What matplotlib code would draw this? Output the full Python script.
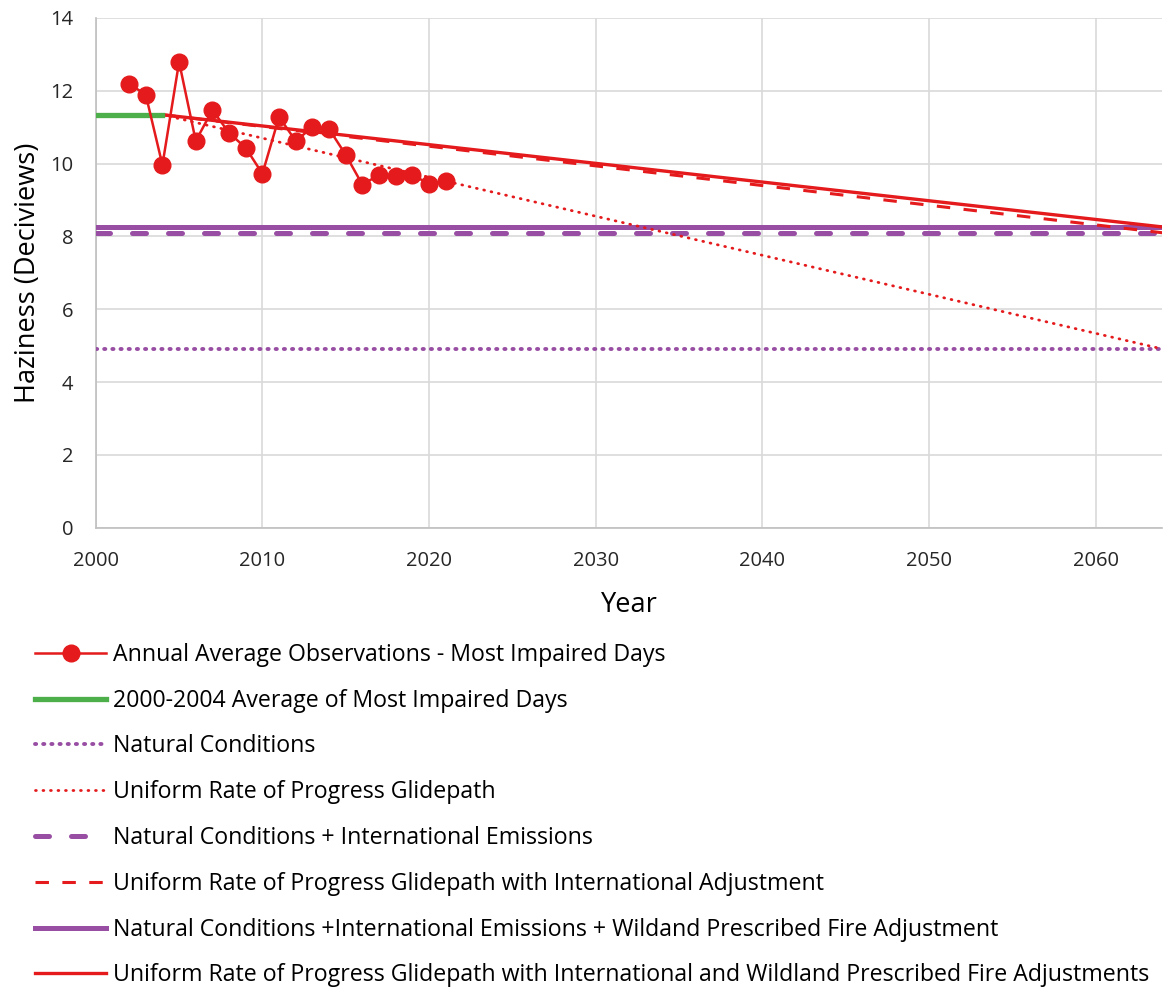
import matplotlib.pyplot as plt

plt.rcParams['font.family'] = ['Open Sans', 'DejaVu Sans']

# observed annual averages, most impaired days
obs_years = [2002, 2003, 2004, 2005, 2006, 2007, 2008, 2009, 2010, 2011,
             2012, 2013, 2014, 2015, 2016, 2017, 2018, 2019, 2020, 2021]
obs_vals = [12.19, 11.89, 9.96, 12.79, 10.62, 11.47, 10.84, 10.43, 9.72, 11.28,
            10.62, 11.00, 10.95, 10.24, 9.42, 9.69, 9.66, 9.69, 9.44, 9.53]

base_years = [2000, 2004]
base_val = 11.34
end_year = 2064
natural = 4.91
natural_intl = 8.10
natural_intl_fire = 8.26

red = '#E41A1C'
green = '#4DAF4A'
purple = '#984EA3'

fig = plt.figure(figsize=(11.68, 9.92), dpi=100)
ax = fig.add_axes([0.082, 0.468, 0.913, 0.514])

xr = [2000, end_year]
glide_x = [base_years[1], end_year]

l_obs, = ax.plot(obs_years, obs_vals, color=red, lw=1.8, marker='o', ms=12, zorder=6,
                 label='Annual Average Observations - Most Impaired Days')
l_base, = ax.plot(base_years, [base_val, base_val], color=green, lw=3.8, zorder=5,
                  label='2000-2004 Average of Most Impaired Days')
l_nat, = ax.plot(xr, [natural, natural], color=purple, lw=2.8, ls=(0, (0.3, 1.8)),
                 dash_capstyle='round', zorder=3, label='Natural Conditions')
l_urp, = ax.plot(glide_x, [base_val, natural], color=red, lw=2.0, ls=(0, (0.3, 2.4)),
                 dash_capstyle='round', zorder=4, label='Uniform Rate of Progress Glidepath')
l_ni, = ax.plot(xr, [natural_intl, natural_intl], color=purple, lw=3.6, ls=(0, (2.8, 4.4)),
                dash_capstyle='round', zorder=3,
                label='Natural Conditions + International Emissions')
l_urpi, = ax.plot(glide_x, [base_val, natural_intl], color=red, lw=2.2, ls=(0, (4.4, 4.4)),
                  zorder=4, label='Uniform Rate of Progress Glidepath with International Adjustment')
l_nif, = ax.plot(xr, [natural_intl_fire, natural_intl_fire], color=purple, lw=3.6, zorder=3,
                 label='Natural Conditions +International Emissions + Wildand Prescribed Fire Adjustment')
l_urpf, = ax.plot(glide_x, [base_val, natural_intl_fire], color=red, lw=2.4, zorder=4,
                  label='Uniform Rate of Progress Glidepath with International and Wildland Prescribed Fire Adjustments')

ax.set_xlim(2000, end_year)
ax.set_ylim(0, 14)
ax.set_xticks(range(2000, 2061, 10))
ax.set_yticks(range(0, 15, 2))
ax.grid(True, color='#d9d9d9', lw=1.2)
ax.set_axisbelow(True)
for s in ['top', 'right']:
    ax.spines[s].set_visible(False)
for s in ['left', 'bottom']:
    ax.spines[s].set_color('#bfbfbf')
    ax.spines[s].set_linewidth(1.2)
ax.tick_params(length=0, labelsize=14.5, colors='#262626')
ax.tick_params(axis='x', pad=17)
ax.tick_params(axis='y', pad=16)
ax.set_ylabel('Haziness (Deciviews)', fontsize=19.5, labelpad=6)
ax.set_xlabel('Year', fontsize=19.5, labelpad=14)

handles = [l_obs, l_base, l_nat, l_urp, l_ni, l_urpi, l_nif, l_urpf]
fig.legend(handles=handles, loc='upper left', bbox_to_anchor=(0.030, 0.352),
           frameon=False, fontsize=16.7, handlelength=3.06, handletextpad=0.3,
           labelspacing=0.94, borderaxespad=0, borderpad=0)

fig.savefig('out.png', dpi=100)
